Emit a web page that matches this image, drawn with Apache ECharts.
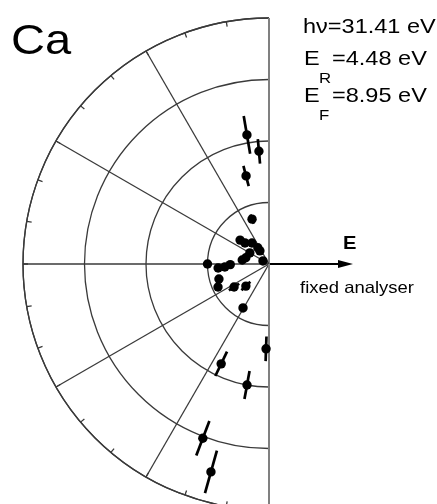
<!DOCTYPE html>
<html>
<head>
<meta charset="utf-8">
<script src="https://cdn.jsdelivr.net/npm/echarts@6/dist/echarts.min.js"></script>
<style>
  html, body { margin: 0; padding: 0; background: #fff; }
  #chart { width: 437px; height: 504px; }
</style>
</head>
<body>
<div id="chart"></div>
<script>
// Emission angle of each measurement, degrees counter-clockwise from the E direction
const angles = [99.7, 95.1, 104.6, 110.7,
                268, 244.4, 259.7, 249.2, 254.4,
                180, 180.9, 140.4, 138.8, 129, 124.5, 124.7, 150, 171.6, 165, 153,
                184.5, 183.9, 196.7, 204.3, 213.3, 223.7, 239.4];
// Measured intensity (radial distance)
const intensities = [2.13, 1.84, 1.48, 0.78,
                     1.38, 1.80, 2.00, 3.03, 3.51,
                     1.00, 0.63, 0.61, 0.52, 0.44, 0.32, 0.26, 0.36, 0.44, 0.39, 0.11,
                     0.83, 0.72, 0.85, 0.91, 0.68, 0.52, 0.83];
// Uncertainty of each intensity
const errors = [0.31, 0.20, 0.17, 0.08,
                0.20, 0.22, 0.23, 0.30, 0.36,
                0.03, 0.03, 0.06, 0.04, 0.04, 0.04, 0.03, 0.04, 0.05, 0.04, 0.03,
                0.04, 0.04, 0.04, 0.05, 0.10, 0.10, 0.04];
// Ring spacing, spoke directions and outer tick spacing
const ringMax = 4, ringStep = 1;
const spokeAngles = [90, 120, 150, 180, 210, 240, 270];
const angleMin = 90, angleMax = 270, tickStep = 10;

const CX = 269, CY = 264, R = 246;
const FONT = '"Liberation Sans", Arial, Helvetica, sans-serif';
const STRETCH = 1.12;
const gridStyle = { color: '#3a3a3a', width: 1.3 };

const points = angles.map((a, i) => [intensities[i], a, errors[i]]);
const spokes = spokeAngles.map(a => [ringMax, a]);

function renderPoint(params, api) {
  const r = api.value(0), a = api.value(1), e = api.value(2);
  const p = api.coord([r, a]);
  const p0 = api.coord([Math.max(r - e, 0), a]);
  const p1 = api.coord([r + e, a]);
  return {
    type: 'group',
    children: [
      { type: 'line', shape: { x1: p0[0], y1: p0[1], x2: p1[0], y2: p1[1] },
        style: { stroke: '#000', lineWidth: 2.7 } },
      { type: 'circle', shape: { cx: p[0], cy: p[1], r: 4.7 }, style: { fill: '#000' } }
    ]
  };
}

// The 90/270 spokes form the diameter, drawn a little lighter and wider
function renderSpoke(params, api) {
  const a = api.value(1);
  const p0 = api.coord([0, a]);
  const p1 = api.coord([api.value(0), a]);
  const edge = a === angleMin || a === angleMax;
  return {
    type: 'line', shape: { x1: p0[0], y1: p0[1], x2: p1[0], y2: p1[1] },
    style: { stroke: edge ? '#808080' : gridStyle.color, lineWidth: edge ? 2 : gridStyle.width }
  };
}

function label(text, x, y, font) {
  return { type: 'text', x: x, y: y, scaleX: STRETCH,
           style: { text: text, font: font, fill: '#000', textVerticalAlign: 'bottom' } };
}

const chart = echarts.init(document.getElementById('chart'), null, { renderer: 'canvas' });
chart.setOption({
  backgroundColor: '#fff',
  animation: false,
  polar: { center: [CX, CY], radius: R },
  angleAxis: {
    type: 'value', min: angleMin, max: angleMax, interval: tickStep,
    startAngle: 90, endAngle: 270, clockwise: false,
    axisLine: { show: true, lineStyle: gridStyle },
    axisTick: { show: true, inside: true, length: 5, lineStyle: gridStyle },
    axisLabel: { show: false },
    splitLine: { show: false }
  },
  radiusAxis: {
    type: 'value', min: 0, max: ringMax, interval: ringStep,
    axisLine: { show: false }, axisTick: { show: false }, axisLabel: { show: false },
    splitLine: { show: true, lineStyle: gridStyle }
  },
  series: [{
    type: 'custom', coordinateSystem: 'polar',
    encode: { radius: 0, angle: 1 },
    renderItem: renderSpoke,
    data: spokes,
    silent: true,
    z: 1
  }, {
    type: 'custom', coordinateSystem: 'polar',
    encode: { radius: 0, angle: 1 },
    renderItem: renderPoint,
    data: points,
    z: 10
  }],
  graphic: [
    label('Ca', 11, 63, '42px ' + FONT),
    label('h\u03bd=31.41 eV', 303, 38, '21px ' + FONT),
    label('E', 304, 70, '21px ' + FONT),
    label('R', 319, 86, '15px ' + FONT),
    label('=4.48 eV', 332, 70, '21px ' + FONT),
    label('E', 304, 107, '21px ' + FONT),
    label('F', 319, 123, '15px ' + FONT),
    label('=8.95 eV', 332, 107, '21px ' + FONT),
    label('E', 343, 253, 'bold 18px ' + FONT),
    label('fixed analyser', 300, 297, '16.5px ' + FONT),
    { type: 'line', shape: { x1: CX, y1: CY, x2: CX + 72, y2: CY }, style: { stroke: '#000', lineWidth: 2.2 } },
    { type: 'polygon', shape: { points: [[CX + 84, CY], [CX + 69, CY - 4], [CX + 69, CY + 4]] }, style: { fill: '#000' } }
  ]
});
</script>
</body>
</html>
